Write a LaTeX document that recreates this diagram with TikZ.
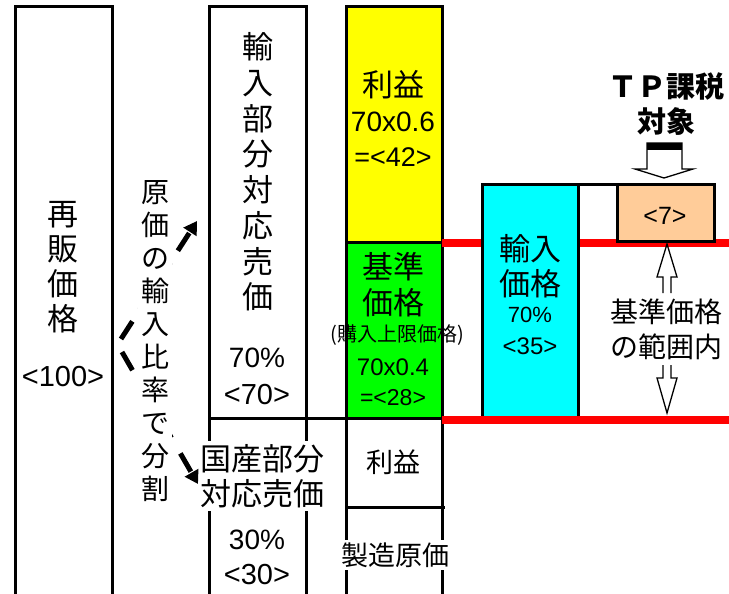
\documentclass[tikz,border=0pt]{standalone}
\usepackage{fontspec}
\setmainfont{Liberation Sans}
\newfontfamily\jp{Noto Sans CJK JP}
\usetikzlibrary{arrows.meta}
\definecolor{peach}{HTML}{FFCC99}
\definecolor{ylw}{HTML}{FFFF00}
\definecolor{grn}{HTML}{00FF00}
\definecolor{cyn}{HTML}{00FFFF}
\definecolor{rd}{HTML}{FF0000}
\newcommand{\setfs}[2]{\fontsize{#1pt}{#2pt}\selectfont}
\tikzset{
  boxline/.style={line width=3pt, line join=miter},
  redline/.style={draw=rd, line width=7.5pt},
  txt/.style={inner sep=0pt, align=center},
  hollow/.style={line width=1.3pt, fill=white, line join=miter},
  dasharrow/.style={line width=5pt, dash pattern=on 21pt off 14pt, -{Triangle[length=13pt,width=15pt]}},
}
\begin{document}
\begin{tikzpicture}[x=1pt,y=-1pt]
\useasboundingbox (0,0) rectangle (729,594);
\fill[white] (0,0) rectangle (729,594);
% left column
\draw[boxline] (15,594) -- (15,7) -- (112,7) -- (112,594);
% middle column
\draw[boxline] (209,594) -- (209,7) -- (306,7) -- (306,594);
% right column fills
\fill[ylw] (346,7) rectangle (442,242);
\fill[grn] (346,242) rectangle (442,418);
\draw[boxline] (346,594) -- (346,7) -- (442,7) -- (442,594);
\draw[boxline] (346,242) -- (442,242);
\draw[boxline] (209,418) -- (442,418);
\draw[boxline] (346,507) -- (445,507);
% upper red line
\draw[redline] (442,243) -- (729,243);
% cyan and peach boxes
\draw[boxline, fill=cyn] (482,184) rectangle (578,418);
\draw[boxline, fill=peach] (617,184) rectangle (714,241);
\draw[boxline] (482,184) -- (714,184);
% lower red line
\draw[redline] (442,420) -- (729,420);

% texts: left column
\node[txt, font=\jp\setfs{31}{35}] (resale) at (63,267) {再\\販\\価\\格};
\node[txt, font=\setfs{29}{35}] (r100) at (63,377) {<100>};
% middle column
\node[txt, font=\jp\setfs{31}{35.7}] (impsale) at (258,172) {輸\\入\\部\\分\\対\\応\\売\\価};
\node[txt, font=\setfs{28}{30}] (m70p) at (257,358) {70\%};
\node[txt, font=\setfs{29}{30}] (m70) at (257,395) {<70>};
\node[txt, fill=white, inner sep=3pt, font=\jp\setfs{31}{35}] (domsale) at (262,476) {国産部分\\対応売価};
\node[txt, font=\setfs{28}{30}] (m30p) at (257,540) {30\%};
\node[txt, font=\setfs{29}{30}] (m30) at (257,575) {<30>};
% right column
\node[txt, font=\jp\setfs{31}{35}] (profit1) at (393,85) {利益};
\node[txt, font=\setfs{28}{30}] (p1calc) at (393,122) {70x0.6};
\node[txt, font=\setfs{27}{30}] (p1val) at (393,157) {=<42>};
\node[txt, font=\jp\setfs{31}{36}] (base) at (393,285) {基準\\価格};
\node[txt, font=\jp\setfs{20}{22}] (upper) at (397,335) {(購入上限価格)};
\node[txt, font=\setfs{24}{26}] (bcalc) at (393,367) {70x0.4};
\node[txt, font=\setfs{23}{26}] (bval) at (393,398) {=<28>};
\node[txt, font=\jp\setfs{27}{30}] (profit2) at (393,462) {利益};
\node[txt, fill=white, inner sep=3pt, font=\jp\setfs{27}{30}] (mfg) at (395,555) {製造原価};
% cyan box texts
\node[txt, font=\jp\setfs{31}{35}] (impprice) at (530,266) {輸入\\価格};
\node[txt, font=\setfs{22}{26}] (c70p) at (530,315) {70\%};
\node[txt, font=\setfs{24}{26}] (c35) at (530,346) {<35>};
% peach
\node[txt, font=\setfs{25}{26}] (seven) at (665,216) {<7>};
% TP label
\node[txt, font=\jp\bfseries\setfs{29}{35}] (tp) at (666,104) {ＴＰ課税\\対象};
% TP hollow arrow
\draw[hollow] (647,143) -- (647,169) -- (635,169) -- (664,178) -- (693,169) -- (682,169) -- (682,143) -- cycle;
\fill[black] (647,143) rectangle (682,150);
% range label and arrows
\node[txt, font=\jp\setfs{28}{35}] (range) at (666,329) {基準価格\\の範囲内};
\draw[hollow, fill=none] (663,293) -- (663,277) -- (657,277) -- (667,244) -- (677,277) -- (671,277) -- (671,293);
\draw[hollow, fill=none] (663,365) -- (663,378) -- (657,378) -- (667,413) -- (677,378) -- (671,378) -- (671,365);
% dashed split arrows
\coordinate (s1) at (121,339);
\coordinate (t1) at (197,221);
\coordinate (s2) at (122,352);
\coordinate (t2) at (198,484);
\draw[dasharrow] (s1) -- (t1);
\draw[dasharrow, dash pattern=on 21pt off 18pt] (s2) -- (t2);
\node[txt, fill=white, inner sep=3pt, font=\jp\setfs{28}{33}] (split) at (155,341) {原\\価\\の\\輸\\入\\比\\率\\で\\分\\割};
\end{tikzpicture}
\end{document}
